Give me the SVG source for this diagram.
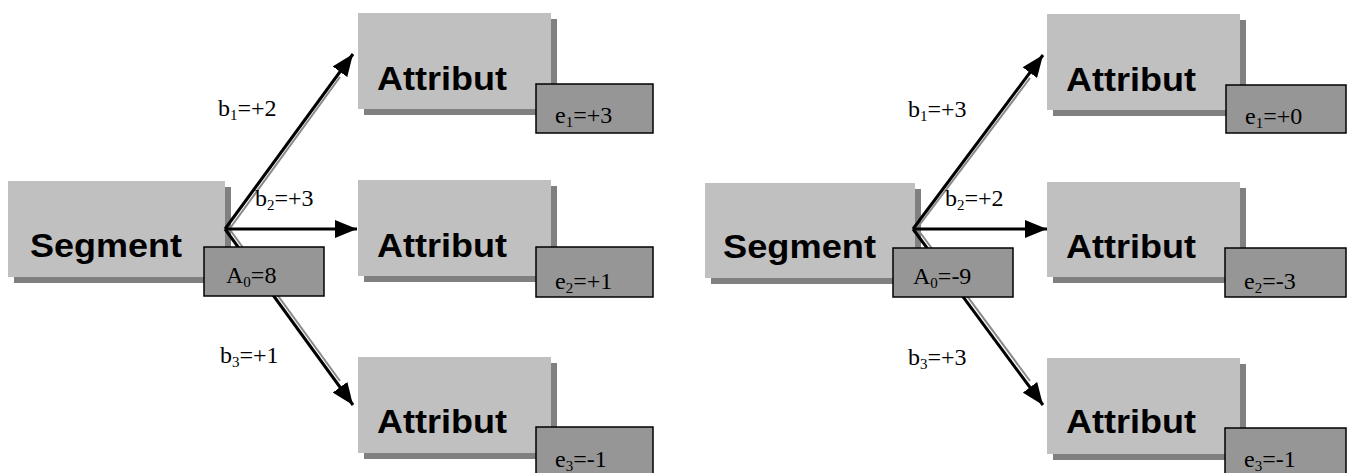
<svg xmlns="http://www.w3.org/2000/svg" width="1353" height="473" viewBox="0 0 1353 473">
<style>
.lt{fill:#c0c0c0}
.sh{fill:#808080}
.dk{fill:#969696;stroke:#000;stroke-width:1.5}
.big{font-family:"Liberation Sans",Arial,sans-serif;font-weight:bold;font-size:33px;fill:#000}
.lab{font-family:"Liberation Serif","Times New Roman",serif;font-size:24px;fill:#000}
.sub{font-size:15px}
.ln{stroke:#000;stroke-width:3;fill:none}
.lns{stroke:#8a8a8a;stroke-width:2;fill:none}
</style>
<defs>
<marker id="ah" markerUnits="userSpaceOnUse" markerWidth="24" markerHeight="18" refX="22" refY="9" orient="auto">
<path d="M0,0 L22,9 L0,18 Z" fill="#000"/>
</marker>
</defs>

<!-- Left panel -->
<g id="seg1">
<rect class="sh" x="14" y="187" width="217" height="96"/>
<rect class="lt" x="8" y="181" width="217" height="96"/>
<text class="big" x="30" y="257" textLength="152" lengthAdjust="spacingAndGlyphs">Segment</text>
</g>
<g id="conn1">
<line class="lns" x1="228" y1="231" x2="340" y2="77"/>
<line class="lns" x1="228" y1="227" x2="340" y2="381"/>
<line class="ln" x1="225" y1="229" x2="353" y2="54" marker-end="url(#ah)"/>
<line class="ln" x1="225" y1="229" x2="357" y2="229" marker-end="url(#ah)"/>
<line class="ln" x1="225" y1="229" x2="353" y2="405" marker-end="url(#ah)"/>
<text class="lab" x="218" y="116">b<tspan class="sub" dy="4">1</tspan><tspan dy="-4">=+2</tspan></text>
<text class="lab" x="255" y="206">b<tspan class="sub" dy="4">2</tspan><tspan dy="-4">=+3</tspan></text>
<text class="lab" x="220" y="363">b<tspan class="sub" dy="4">3</tspan><tspan dy="-4">=+1</tspan></text>
</g>
<g id="a01">
<rect class="dk" x="204" y="247" width="120" height="49"/>
<text class="lab" x="226" y="283">A<tspan class="sub" dy="4">0</tspan><tspan dy="-4">=8</tspan></text>
</g>
<g id="att1a">
<rect class="sh" x="364" y="19" width="193" height="96"/>
<rect class="lt" x="358" y="13" width="193" height="96"/>
<text class="big" x="377" y="90" textLength="130" lengthAdjust="spacingAndGlyphs">Attribut</text>
<rect class="dk" x="536" y="84" width="117" height="49"/>
<text class="lab" x="555" y="123">e<tspan class="sub" dy="4">1</tspan><tspan dy="-4">=+3</tspan></text>
</g>
<g id="att1b">
<rect class="sh" x="364" y="186" width="193" height="96"/>
<rect class="lt" x="358" y="180" width="193" height="96"/>
<text class="big" x="377" y="257" textLength="130" lengthAdjust="spacingAndGlyphs">Attribut</text>
<rect class="dk" x="536" y="247" width="117" height="50"/>
<text class="lab" x="555" y="289">e<tspan class="sub" dy="4">2</tspan><tspan dy="-4">=+1</tspan></text>
</g>
<g id="att1c">
<rect class="sh" x="364" y="363" width="193" height="96"/>
<rect class="lt" x="358" y="357" width="193" height="96"/>
<text class="big" x="377" y="433" textLength="130" lengthAdjust="spacingAndGlyphs">Attribut</text>
<rect class="dk" x="536" y="427" width="117" height="52"/>
<text class="lab" x="555" y="467">e<tspan class="sub" dy="4">3</tspan><tspan dy="-4">=-1</tspan></text>
</g>

<!-- Right panel -->
<g id="seg2">
<rect class="sh" x="711" y="189" width="210" height="95"/>
<rect class="lt" x="705" y="183" width="210" height="95"/>
<text class="big" x="723" y="258" textLength="153" lengthAdjust="spacingAndGlyphs">Segment</text>
</g>
<g id="conn2">
<line class="lns" x1="915" y1="231" x2="1030" y2="78"/>
<line class="lns" x1="916" y1="227" x2="1030" y2="381"/>
<line class="ln" x1="913" y1="229" x2="1043" y2="55" marker-end="url(#ah)"/>
<line class="ln" x1="913" y1="229" x2="1047" y2="229" marker-end="url(#ah)"/>
<line class="ln" x1="913" y1="229" x2="1043" y2="405" marker-end="url(#ah)"/>
<text class="lab" x="908" y="117">b<tspan class="sub" dy="4">1</tspan><tspan dy="-4">=+3</tspan></text>
<text class="lab" x="945" y="206">b<tspan class="sub" dy="4">2</tspan><tspan dy="-4">=+2</tspan></text>
<text class="lab" x="908" y="365">b<tspan class="sub" dy="4">3</tspan><tspan dy="-4">=+3</tspan></text>
</g>
<g id="a02">
<rect class="dk" x="893" y="248" width="120" height="49"/>
<text class="lab" x="913" y="284">A<tspan class="sub" dy="4">0</tspan><tspan dy="-4">=-9</tspan></text>
</g>
<g id="att2a">
<rect class="sh" x="1053" y="20" width="193" height="96"/>
<rect class="lt" x="1047" y="14" width="193" height="96"/>
<text class="big" x="1066" y="91" textLength="130" lengthAdjust="spacingAndGlyphs">Attribut</text>
<rect class="dk" x="1226" y="85" width="120" height="48"/>
<text class="lab" x="1245" y="124">e<tspan class="sub" dy="4">1</tspan><tspan dy="-4">=+0</tspan></text>
</g>
<g id="att2b">
<rect class="sh" x="1053" y="188" width="193" height="95"/>
<rect class="lt" x="1047" y="182" width="193" height="95"/>
<text class="big" x="1066" y="258" textLength="130" lengthAdjust="spacingAndGlyphs">Attribut</text>
<rect class="dk" x="1225" y="248" width="121" height="49"/>
<text class="lab" x="1244" y="289">e<tspan class="sub" dy="4">2</tspan><tspan dy="-4">=-3</tspan></text>
</g>
<g id="att2c">
<rect class="sh" x="1053" y="364" width="193" height="96"/>
<rect class="lt" x="1047" y="358" width="193" height="96"/>
<text class="big" x="1066" y="433" textLength="130" lengthAdjust="spacingAndGlyphs">Attribut</text>
<rect class="dk" x="1225" y="428" width="121" height="52"/>
<text class="lab" x="1244" y="467">e<tspan class="sub" dy="4">3</tspan><tspan dy="-4">=-1</tspan></text>
</g>
</svg>
